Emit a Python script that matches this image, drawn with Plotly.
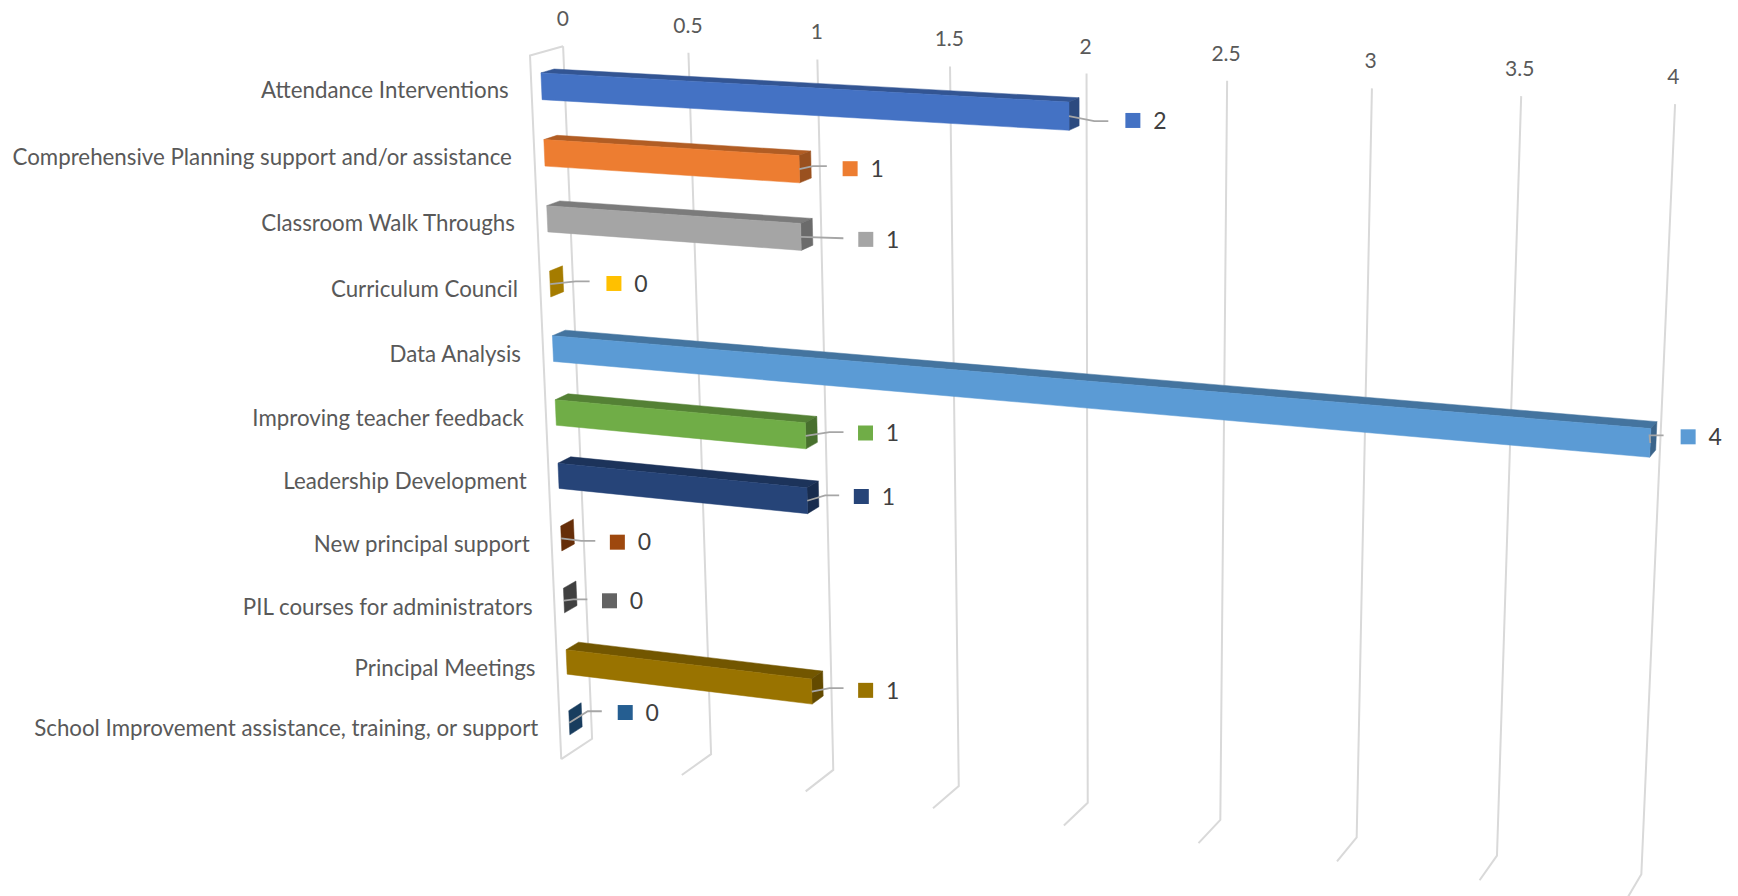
import numpy as np
import plotly.graph_objects as go

categories = [
    "Attendance Interventions",
    "Comprehensive Planning support and/or assistance",
    "Classroom Walk Throughs",
    "Curriculum Council",
    "Data Analysis",
    "Improving teacher feedback",
    "Leadership Development",
    "New principal support",
    "PIL courses for administrators",
    "Principal Meetings",
    "School Improvement assistance, training, or support",
]
values = [2, 1, 1, 0, 4, 1, 1, 0, 0, 1, 0]
tick_values = [0, 0.5, 1, 1.5, 2, 2.5, 3, 3.5, 4]
tick_labels = ["0", "0.5", "1", "1.5", "2", "2.5", "3", "3.5", "4"]
base_colors = ["#4472C4", "#ED7D31", "#A5A5A5", "#FFC000", "#5B9BD5", "#70AD47",
               "#264478", "#9E480E", "#636363", "#997300", "#255E91"]

# label placement, in value units past the bar end and wall-height units
key_dv = [.227, .193, .247, .259, .121, .232, .211, .232, .190, .213, .237]
key_h = [.955, .870, .777, .691, .604, .513, .424, .323, .236, .149, .073]
lead_dv = [.140, .105, .162, .161, .042, .147, .125, .141, .098, .126, .139]
lead_h = [.951, .870, .775, .690, .602, .510, .421, .320, .233, .147, .069]
cat_h = [.947, .855, .764, .671, .580, .488, .397, .305, .213, .121, .031]

W, H = 1738, 896
# perspective of the chart box: (value, depth, height) -> picture
PROJ = np.array([[223.003, 40.6918, -59.9284, 561.256],
                 [11.1643, -8.06551, -706.574, 759.143],
                 [-0.0266149, 0.0166591, -0.0540962, 1.0]])
D0, D1 = 0.3, 0.7
BAND = 0.2
GRID = "#D9D9D9"
LEAD = "#A6A6A6"
FONT = "Lato"


def project(v, d, h):
    w = PROJ @ np.array([v, d, h, 1.0])
    return float(w[0] / w[2]), float(w[1] / w[2])


def shade(hex_color, k):
    r, g, b = (int(hex_color[i:i + 2], 16) for i in (1, 3, 5))
    return "rgb(%d,%d,%d)" % (r * k, g * k, b * k)


def row(i):
    return 1 - (i + 0.5) / len(categories)


def poly(corners, color):
    xy = [project(*c) for c in corners]
    return go.Scatter(x=[p[0] for p in xy] + [xy[0][0]], y=[p[1] for p in xy] + [xy[0][1]],
                      mode="lines", fill="toself", fillcolor=color,
                      line=dict(color=color, width=0.5), hoverinfo="skip")


fig = go.Figure()

# gridlines: back wall then floor
gx, gy = [], []
for t in tick_values:
    for c in [(t, 1, 1), (t, 1, 0), (t, 0, 0)]:
        x, y = project(*c)
        gx.append(x); gy.append(y)
    gx.append(None); gy.append(None)
for c in [(0, 1, 1), (0, 0, 1), (0, 0, 0)]:
    x, y = project(*c)
    gx.append(x); gy.append(y)
fig.add_trace(go.Scatter(x=gx, y=gy, mode="lines", line=dict(color=GRID, width=2), hoverinfo="skip"))

# bars
for i, v in enumerate(values):
    c = base_colors[i]
    h0, h1 = row(i) - BAND / len(categories), row(i) + BAND / len(categories)
    if v > 0:
        fig.add_trace(poly([(0, D0, h1), (v, D0, h1), (v, D1, h1), (0, D1, h1)], shade(c, .75)))
    fig.add_trace(poly([(v, D0, h0), (v, D1, h0), (v, D1, h1), (v, D0, h1)], shade(c, .65)))
    if v > 0:
        fig.add_trace(poly([(0, D0, h0), (v, D0, h0), (v, D0, h1), (0, D0, h1)], c))

# leader lines
lx, ly = [], []
for i, v in enumerate(values):
    sx, sy = project(v, D0, row(i))
    ex, ey = project(v + lead_dv[i], D0, lead_h[i])
    lx += [sx, ex - 14, ex, None]
    ly += [sy, ey, ey, None]
fig.add_trace(go.Scatter(x=lx, y=ly, mode="lines", line=dict(color=LEAD, width=1.8), hoverinfo="skip"))

# data-label keys and values
kxy = [project(v + key_dv[i], D0, key_h[i]) for i, v in enumerate(values)]
fig.add_trace(go.Scatter(x=[p[0] for p in kxy], y=[p[1] + 1 for p in kxy], mode="markers",
                         marker=dict(symbol="square", size=15, color=base_colors, line=dict(width=0)),
                         hoverinfo="skip"))
fig.add_trace(go.Scatter(x=[p[0] + 27 for p in kxy], y=[p[1] + 3.5 for p in kxy], mode="text",
                         text=[str(v) for v in values], textposition="middle center",
                         textfont=dict(family=FONT, size=23, color="#404040"), hoverinfo="skip"))

# category labels
cxy = [project(-0.133, D0, cat_h[i]) for i in range(len(categories))]
fig.add_trace(go.Scatter(x=[p[0] for p in cxy], y=[p[1] + 2.5 for p in cxy], mode="text",
                         text=categories, textposition="middle left",
                         textfont=dict(family=FONT, size=22.3, color="#595959"), hoverinfo="skip"))

# value-axis labels
txy = [project(t * 0.997 + 0.003, 1, 1.036 - 0.0011 * t) for t in tick_values]
fig.add_trace(go.Scatter(x=[p[0] for p in txy], y=[p[1] + 1 for p in txy], mode="text",
                         text=tick_labels, textposition="middle center",
                         textfont=dict(family=FONT, size=21, color="#595959"), hoverinfo="skip"))

fig.update_layout(width=W, height=H, margin=dict(l=0, r=0, t=0, b=0), showlegend=False,
                  paper_bgcolor="white", plot_bgcolor="white",
                  xaxis=dict(range=[0, W], visible=False),
                  yaxis=dict(range=[H, 0], visible=False))
fig.write_html("out.html", config=dict(displayModeBar=False),
               post_script="document.body.style.margin='0';")
